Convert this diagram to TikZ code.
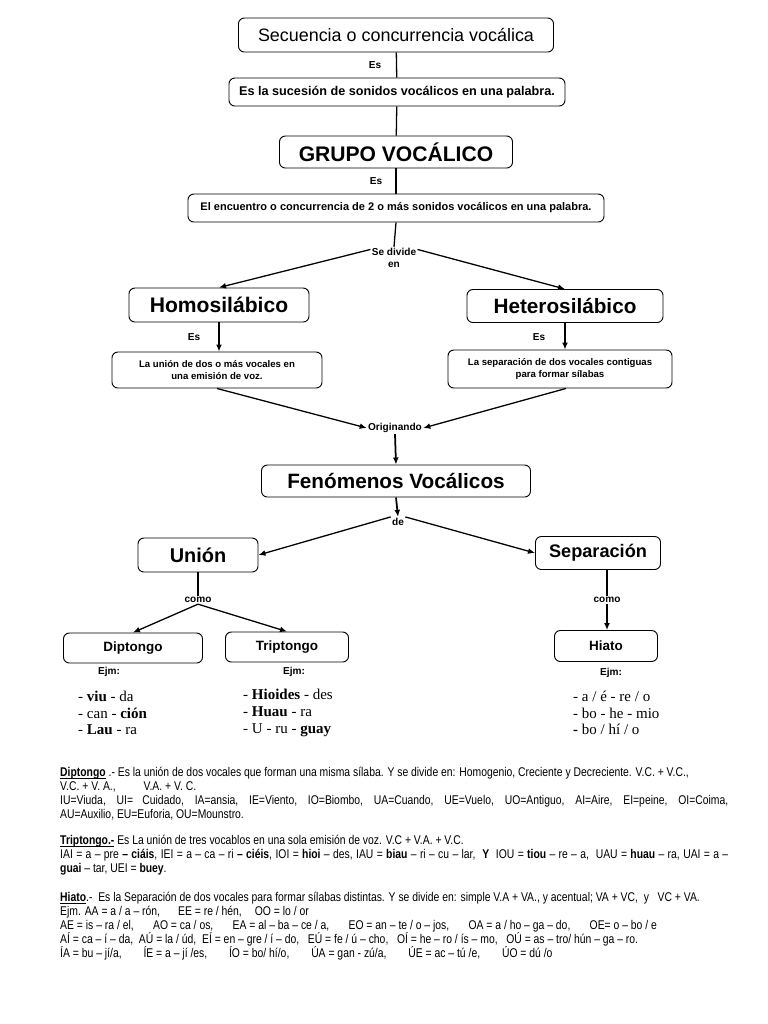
\documentclass[tikz,border=0pt]{standalone}
\usepackage{fontspec}
\setmainfont{Liberation Sans}
\newfontfamily\serifex{Liberation Serif}
\newfontfamily\narrowtxt[FakeStretch=0.82]{Liberation Sans}
\usetikzlibrary{arrows.meta}
\newsavebox\subbox
\newcommand\subrayado[1]{\sbox\subbox{#1}\rlap{\rule[-1.8pt]{\wd\subbox}{0.6pt}}\usebox\subbox}
\tikzset{
  box/.style={draw, rounded corners=5pt, line width=0.8pt, inner sep=0pt, align=center},
  lbl/.style={font=\bfseries\fontsize{8.6}{10.5}\selectfont, inner sep=1pt, align=center},
  arr/.style={-{Latex[length=6pt,width=5pt]}, line width=1.1pt},
  lin/.style={line width=1.1pt},
  ejemplo/.style={anchor=west, align=left, inner sep=0pt, font=\serifex\fontsize{12.8}{14.3}\selectfont},
  parrafo/.style={anchor=north west, inner sep=0pt, text width=20.04cm, align=justify, font=\narrowtxt\fontsize{10.8}{11.9}\selectfont},
}
\begin{document}
\begin{tikzpicture}[x=0.03cm, y=-0.03cm]
  \useasboundingbox (0,0) rectangle (768,1024);
  % cajas
  \node[box, minimum width=9.45cm, minimum height=1.02cm, font=\fontsize{15.3}{17}\selectfont] (sec) at (396,35) {Secuencia o concurrencia vocálica};
  \node[box, minimum width=10.08cm, minimum height=0.84cm, font=\bfseries\fontsize{10.8}{12}\selectfont] (def1) at (397,92) {Es la sucesión de sonidos vocálicos en una palabra.};
  \node[box, minimum width=6.99cm, minimum height=0.96cm, font=\bfseries\fontsize{18}{20}\selectfont] (grupo) at (396,152) {GRUPO VOCÁLICO};
  \node[box, minimum width=12.48cm, minimum height=0.84cm, font=\bfseries\fontsize{9.4}{11}\selectfont] (def2) at (396,208) {El encuentro o concurrencia de 2 o más sonidos vocálicos en una palabra.};
  \node[box, minimum width=5.4cm, minimum height=1.02cm, font=\bfseries\fontsize{18}{20}\selectfont] (homo) at (219,305) {Homosilábico};
  \node[box, minimum width=5.88cm, minimum height=0.99cm, font=\bfseries\fontsize{17.7}{20}\selectfont] (hetero) at (565,306) {Heterosilábico};
  \node[box, minimum width=6.3cm, minimum height=1.08cm, font=\bfseries\fontsize{8.2}{10.2}\selectfont] (defhomo) at (217,370) {La unión de dos o más vocales en\\una emisión de voz.};
  \node[box, minimum width=6.72cm, minimum height=1.14cm, font=\bfseries\fontsize{8.2}{10.2}\selectfont] (defhetero) at (560,369) {La separación de dos vocales contiguas\\para formar sílabas};
  \node[box, minimum width=8.07cm, minimum height=0.96cm, font=\bfseries\fontsize{17.7}{20}\selectfont] (fen) at (396,481) {Fenómenos Vocálicos};
  \node[box, minimum width=3.6cm, minimum height=1.02cm, font=\bfseries\fontsize{17}{19}\selectfont] (union) at (198,555) {Unión};
  \node[box, minimum width=3.75cm, minimum height=0.99cm, font=\bfseries\fontsize{15.5}{17}\selectfont] (sep) at (598,553) {Separación};
  \node[box, minimum width=4.17cm, minimum height=0.9cm, font=\bfseries\fontsize{11.5}{13}\selectfont] (dip) at (133,648) {Diptongo};
  \node[box, minimum width=3.69cm, minimum height=0.9cm, font=\bfseries\fontsize{11.5}{13}\selectfont] (trip) at (287,647) {Triptongo};
  \node[box, minimum width=3.09cm, minimum height=0.93cm, font=\bfseries\fontsize{11.5}{13}\selectfont] (hiato) at (606,646) {Hiato};
  % etiquetas
  \node[lbl] (es1) at (375,65) {Es};
  \node[lbl] (es2) at (376,181) {Es};
  \node[lbl] (divide) at (394,258) {Se divide\\en};
  \node[lbl] (es3) at (194,337) {Es};
  \node[lbl] (es4) at (539,337) {Es};
  \node[lbl] (orig) at (395,428) {Originando};
  \node[lbl] (de) at (398,522) {de};
  \node[lbl] (como1) at (198,600) {como};
  \node[lbl] (como2) at (607,600) {como};
  \node[lbl] (ejm1) at (109,672) {Ejm:};
  \node[lbl] (ejm2) at (294,672) {Ejm:};
  \node[lbl] (ejm3) at (611,673) {Ejm:};
  % conectores
  \draw[lin] (sec) -- (def1);
  \draw[lin] (def1) -- (grupo);
  \draw[lin] (grupo) -- (def2);
  \draw[lin] (def2.south) -- (divide.north);
  \draw[arr] (divide.160) -- (homo.north);
  \draw[arr] (divide.20) -- (hetero.north);
  \draw[arr] (homo.south) -- (homo.south |- defhomo.north);
  \draw[arr] (hetero.south) -- (hetero.south |- defhetero.north);
  \draw[arr] (defhomo.south) -- (orig.west);
  \draw[arr] ([xshift=5pt]defhetero.south) -- (orig.east);
  \draw[arr, line width=1.5pt] (orig.south) -- (fen.north);
  \draw[arr, line width=1.5pt] (fen.south) -- (de.north);
  \draw[arr] (de.north west) -- (union.east);
  \draw[arr] (de.north east) -- (sep.west);
  \draw[lin] (union.south) -- (como1.north);
  \draw[arr] (como1.south) -- (dip.north);
  \draw[arr] (como1.south) -- (trip.north);
  \draw[lin] (sep.south -| como2) -- (como2.north);
  \draw[arr] (como2.south) -- (hiato.north -| como2);
  % ejemplos
  \node[ejemplo] (ejdip) at (78,713) {- \textbf{viu} - da\\- can - \textbf{ción}\\- \textbf{Lau} - ra};
  \node[ejemplo] (ejtrip) at (243,713) {- \textbf{Hioides} - des\\- \textbf{Huau} - ra\\- U - ru - \textbf{guay}};
  \node[ejemplo] (ejhiato) at (573,713) {- a / é - re / o\\- bo - he - mio\\\textbf{-} bo / hí / o};
  % definiciones
  \node[parrafo] (pdip) at (60,767) {\subrayado{\textbf{Diptongo}} .- Es la unión de dos vocales que forman una misma sílaba. Y se divide en: Homogenio, Creciente y Decreciente. V.C. + V.C.,\\
    V.C. + V. A.,\hspace{2.2em}V.A. + V. C.\\
    IU=Viuda, UI= Cuidado, IA=ansia, IE=Viento, IO=Biombo, UA=Cuando, UE=Vuelo, UO=Antiguo, AI=Aire, EI=peine, OI=Coima,\linebreak
    AU=Auxilio, EU=Euforia, OU=Mounstro.};
  \node[parrafo] (ptrip) at (60,835) {\subrayado{\textbf{Triptongo.-}} Es La unión de tres vocablos en una sola emisión de voz. V.C + V.A. + V.C.\\
    IAI = a – pre \textbf{– ciáis}, IEI = a – ca – ri \textbf{– ciéis}, IOI = \textbf{hioi} – des, IAU = \textbf{biau} – ri – cu – lar, \ \textbf{Y} \ IOU = \textbf{tiou} – re – a, \ UAU = \textbf{huau} – ra, UAI = a –\linebreak
    \textbf{guai} – tar, UEI = \textbf{buey}.};
  \node[parrafo] (phiato) at (60,892) {\subrayado{\textbf{Hiato}}.- \ Es la Separación de dos vocales para formar sílabas distintas. Y se divide en: simple V.A + VA., y acentual; VA + VC, \ y \ \ VC + VA.\\
    Ejm. AA = a / a – rón, \hspace{1.2em}EE = re / hén, \hspace{0.8em}OO = lo / or\\
    AE = is – ra / el, \hspace{1.3em}AO = ca / os, \hspace{1.3em}EA = al – ba – ce / a, \hspace{1.3em}EO = an – te / o – jos, \hspace{1.3em}OA = a / ho – ga – do, \hspace{1.3em}OE= o – bo / e\\
    AÍ = ca – í – da, \ AÚ = la / úd, \ EÍ = en – gre / í – do, \ \ EÚ = fe / ú – cho, \ \ OÍ = he – ro / ís – mo, \ \ OÚ = as – tro/ hún – ga – ro.\\
    ÍA = bu – jí/a, \hspace{1.5em}ÍE = a – jí /es, \hspace{1.5em}ÍO = bo/ hí/o, \hspace{1.5em}ÚA = gan - zú/a, \hspace{1.5em}ÚE = ac – tú /e, \hspace{1.5em}ÚO = dú /o};
\end{tikzpicture}
\end{document}
